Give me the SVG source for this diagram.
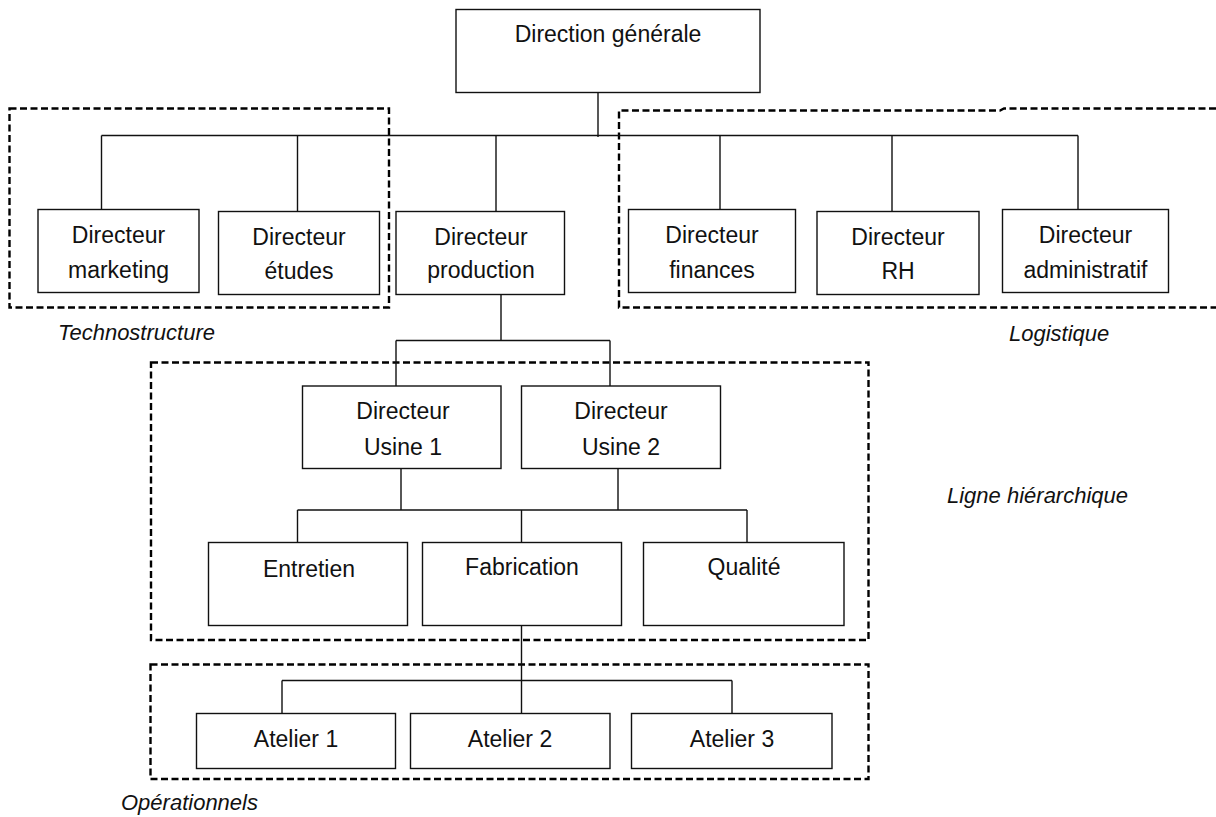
<svg xmlns="http://www.w3.org/2000/svg" width="1216" height="817" viewBox="0 0 1216 817">
<style>
.box{fill:#fff;stroke:#111;stroke-width:1.4}
.t{font-family:"Liberation Sans",Arial,sans-serif;font-size:23px;fill:#111;text-anchor:middle}
.lbl{font-family:"Liberation Sans",Arial,sans-serif;font-size:22px;font-style:italic;fill:#111}
.c{fill:none;stroke:#111;stroke-width:1.4}
.d{fill:none;stroke:#000;stroke-width:2.4;stroke-dasharray:7 3.5}
</style>
<rect width="1216" height="817" fill="#fff"/>
<g id="groups">
<rect class="d" x="9.5" y="108.5" width="379.5" height="199"/>
<path class="d" d="M1216,108.5 H1004 L1000,110.5 H619 V307.5 H1216"/>
<rect class="d" x="151" y="362.5" width="717.5" height="277.5"/>
<rect class="d" x="150.5" y="664.5" width="718" height="114.5"/>
</g>
<g id="connectors">
<path class="c" d="M598,92.5 V137"/>
<path class="c" d="M101.5,135.5 H1078"/>
<path class="c" d="M101.5,135.5 V209.5 M297.5,135.5 V211.5 M496,135.5 V211.5 M720,135.5 V209.5 M892,135.5 V211.5 M1078,135.5 V211.5"/>
<path class="c" d="M501,294.5 V340.5 M396,340.5 H610 M396,340.5 V386 M610,340.5 V386"/>
<path class="c" d="M401,468.5 V510 M618,468.5 V510 M297.5,510 H747 M297.5,510 V542.5 M521.5,510 V542.5 M747,510 V542.5"/>
<path class="c" d="M521.5,625.5 V713.5 M282,680.5 H732 M282,680.5 V713.5 M732,680.5 V713.5"/>
</g>
<g id="n-dg"><rect class="box" x="456" y="9.5" width="304" height="83"/><text class="t" x="608" y="41.5">Direction générale</text></g>
<g id="n-marketing"><rect class="box" x="38" y="209.5" width="161" height="83"/><text class="t" x="118.5" y="243">Directeur</text><text class="t" x="118.5" y="278">marketing</text></g>
<g id="n-etudes"><rect class="box" x="218.5" y="211.5" width="161" height="83"/><text class="t" x="299" y="245">Directeur</text><text class="t" x="299" y="279">études</text></g>
<g id="n-production"><rect class="box" x="396" y="211.5" width="168.5" height="83"/><text class="t" x="481" y="245">Directeur</text><text class="t" x="481" y="278">production</text></g>
<g id="n-finances"><rect class="box" x="628.5" y="209.5" width="167" height="83"/><text class="t" x="712" y="243">Directeur</text><text class="t" x="712" y="278">finances</text></g>
<g id="n-rh"><rect class="box" x="817" y="211.5" width="162" height="83"/><text class="t" x="898" y="245">Directeur</text><text class="t" x="898" y="279">RH</text></g>
<g id="n-admin"><rect class="box" x="1002.5" y="209.5" width="166" height="83"/><text class="t" x="1085.5" y="243">Directeur</text><text class="t" x="1085.5" y="278">administratif</text></g>
<g id="n-usine1"><rect class="box" x="302.5" y="386" width="198.5" height="82.5"/><text class="t" x="403" y="419">Directeur</text><text class="t" x="403" y="455">Usine 1</text></g>
<g id="n-usine2"><rect class="box" x="521.5" y="386" width="199" height="82.5"/><text class="t" x="621" y="419">Directeur</text><text class="t" x="621" y="455">Usine 2</text></g>
<g id="n-entretien"><rect class="box" x="208.5" y="542.5" width="199" height="83"/><text class="t" x="309" y="577">Entretien</text></g>
<g id="n-fabrication"><rect class="box" x="422.5" y="542.5" width="199" height="83"/><text class="t" x="522" y="575">Fabrication</text></g>
<g id="n-qualite"><rect class="box" x="643.5" y="542.5" width="200.5" height="83"/><text class="t" x="744" y="575">Qualité</text></g>
<g id="n-atelier1"><rect class="box" x="196.5" y="713.5" width="199" height="55"/><text class="t" x="296" y="747">Atelier 1</text></g>
<g id="n-atelier2"><rect class="box" x="410.5" y="713.5" width="199.5" height="55"/><text class="t" x="510" y="747">Atelier 2</text></g>
<g id="n-atelier3"><rect class="box" x="631.5" y="713.5" width="200.5" height="55"/><text class="t" x="732" y="747">Atelier 3</text></g>
<g id="labels">
<text class="lbl" x="58" y="340">Technostructure</text>
<text class="lbl" x="1009" y="340.5">Logistique</text>
<text class="lbl" x="947" y="503">Ligne hiérarchique</text>
<text class="lbl" x="121" y="810">Opérationnels</text>
</g>
</svg>
